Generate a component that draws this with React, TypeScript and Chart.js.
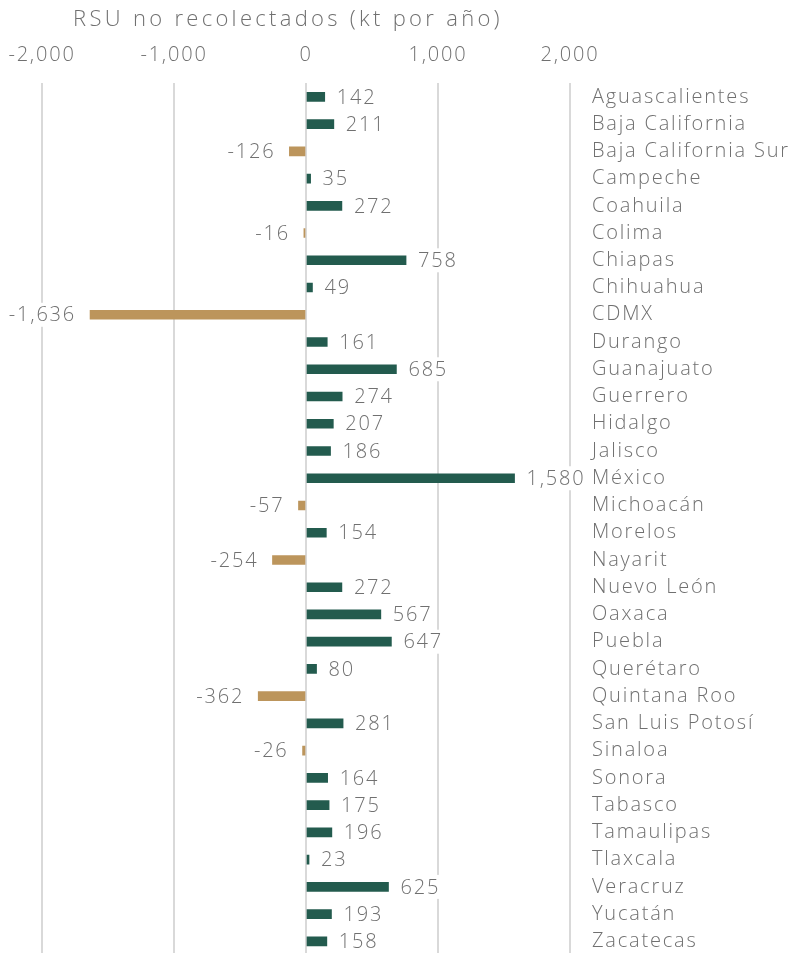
import React, { useEffect, useRef } from "react";
import { Chart, registerables } from "chart.js";

Chart.register(...registerables);

const categories = [
  "Aguascalientes", "Baja California", "Baja California Sur", "Campeche", "Coahuila",
  "Colima", "Chiapas", "Chihuahua", "CDMX", "Durango", "Guanajuato", "Guerrero",
  "Hidalgo", "Jalisco", "México", "Michoacán", "Morelos", "Nayarit", "Nuevo León",
  "Oaxaca", "Puebla", "Querétaro", "Quintana Roo", "San Luis Potosí", "Sinaloa",
  "Sonora", "Tabasco", "Tamaulipas", "Tlaxcala", "Veracruz", "Yucatán", "Zacatecas",
];

const values = [
  142, 211, -126, 35, 272, -16, 758, 49, -1636, 161, 685, 274, 207, 186, 1580, -57,
  154, -254, 272, 567, 647, 80, -362, 281, -26, 164, 175, 196, 23, 625, 193, 158,
];

const axisMin = -2000;
const axisMax = 2000;
const axisStep = 1000;
const axisTitle = "RSU no recolectados (kt por año)";

const GREEN = "#235B4E";
const GOLD = "#BC955C";
const TEXT = "#707070";
const GRID = "#d9d9d9";
const FAMILY = "'Open Sans', sans-serif";
const SPACING = "1.8px";

const fmt = (v: number) => Number(v).toLocaleString("en-US");

const spacingPlugin = {
  id: "spacing",
  beforeUpdate(chart: any) { chart.ctx.letterSpacing = SPACING; },
  beforeLayout(chart: any) { chart.ctx.letterSpacing = SPACING; },
  beforeDraw(chart: any) { chart.ctx.letterSpacing = SPACING; },
};

const titlePlugin = {
  id: "axisTitleText",
  afterDraw(chart: any) {
    const ctx = chart.ctx;
    const xs = chart.scales.x;
    const area = chart.chartArea;
    ctx.save();
    ctx.letterSpacing = "3.3px";
    ctx.font = `300 22px ${FAMILY}`;
    ctx.fillStyle = TEXT;
    ctx.textAlign = "center";
    ctx.textBaseline = "middle";
    ctx.fillText(axisTitle, (area.left + area.right) / 2 - 18, xs.top + 20);
    ctx.restore();
  },
};

const labelPlugin = {
  id: "valueLabels",
  afterDatasetsDraw(chart: any) {
    const ctx = chart.ctx;
    const meta = chart.getDatasetMeta(0);
    const ds = chart.data.datasets[0];
    ctx.save();
    ctx.letterSpacing = SPACING;
    ctx.font = `300 20px ${FAMILY}`;
    ctx.textBaseline = "middle";
    meta.data.forEach((bar: any, i: number) => {
      const v = ds.data[i] as number;
      const text = fmt(v);
      const w = ctx.measureText(text).width;
      const neg = v < 0;
      const x = neg ? bar.x - 14 : bar.x + 12;
      const left = neg ? x - w : x;
      ctx.fillStyle = "#ffffff";
      ctx.fillRect(left - 2, bar.y - 12, w + 4, 24);
      ctx.fillStyle = TEXT;
      ctx.textAlign = neg ? "right" : "left";
      ctx.fillText(text, x, bar.y + 1);
    });
    ctx.restore();
  },
};

export default function App() {
  const ref = useRef<HTMLCanvasElement | null>(null);

  useEffect(() => {
    if (!ref.current) return;
    const chart = new Chart(ref.current, {
      type: "bar",
      data: {
        labels: categories,
        datasets: [
          {
            data: values,
            backgroundColor: values.map((v) => (v < 0 ? GOLD : GREEN)),
            barThickness: 9,
          },
        ],
      },
      options: {
        indexAxis: "y",
        responsive: false,
        animation: false,
        devicePixelRatio: 1,
        layout: { padding: { left: 42, top: 0, right: 0, bottom: 0 } },
        plugins: { legend: { display: false }, tooltip: { enabled: false } },
        scales: {
          x: {
            position: "top",
            min: axisMin,
            max: axisMax,
            ticks: {
              stepSize: axisStep,
              callback: (v: any) => fmt(v),
              color: TEXT,
              font: { family: FAMILY, size: 20, weight: "300" as any },
              padding: 16,
              maxRotation: 0,
            },
            grid: { color: GRID, lineWidth: 2, drawTicks: false },
            border: { display: false },
            title: {
              display: true,
              text: axisTitle,
              color: "rgba(0,0,0,0)",
              font: { family: FAMILY, size: 21, weight: "300" as any },
              padding: { top: 0, bottom: 2 },
            },
            afterFit: (s: any) => {
              s.paddingLeft = 0;
              s.paddingRight = 0;
            },
          },
          y: {
            position: "right",
            grid: { display: false, drawTicks: false },
            border: { display: false },
            ticks: {
              color: TEXT,
              font: { family: FAMILY, size: 20, weight: "300" as any },
              padding: 22,
              autoSkip: false,
            },
            afterFit: (s: any) => {
              s.width = 220;
              s.paddingTop = 0;
              s.paddingBottom = 0;
            },
          },
        },
      },
      plugins: [spacingPlugin, labelPlugin, titlePlugin],
    });
    return () => chart.destroy();
  }, []);

  return (
    <div style={{ position: "fixed", left: 0, top: 0, width: 790, height: 955, background: "#fff" }}>
      <canvas ref={ref} width={790} height={955} />
    </div>
  );
}
